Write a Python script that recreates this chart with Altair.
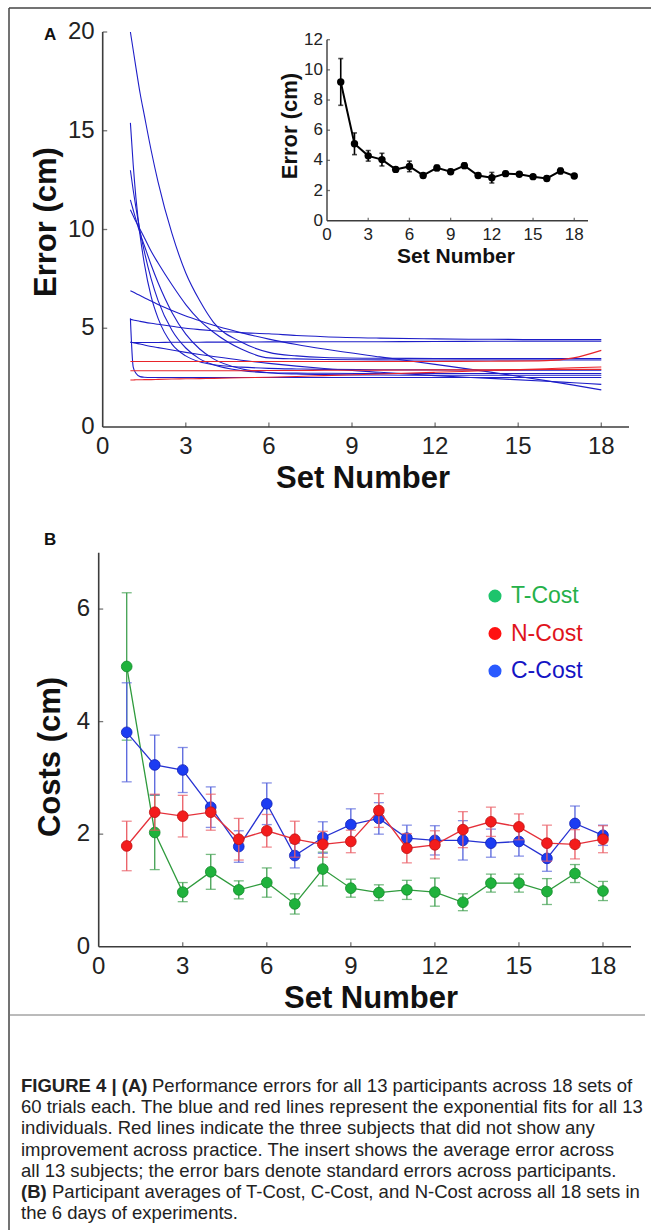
import altair as alt
import pandas as pd

W, H = 658, 1230
FONT = "Liberation Sans, Arial, sans-serif"
CAPFONT = "Liberation Sans Narrow, Arial Narrow, Liberation Sans, sans-serif"
AX_COLOR = "#3c3c3c"
LABEL_COLOR = "#222222"

# ---------------- Panel A : exponential fits per participant ----------------
CURVE_X = [1, 1.1, 1.2, 1.35, 1.5, 1.75, 2, 2.5, 3, 3.5, 4, 5, 6, 7, 8, 10, 12, 14, 16, 17, 18]
BLUE_1 = [20.0, 19.1, 18.2, 16.9, 15.8, 14.0, 12.4, 9.8, 7.8, 6.4, 5.3, 4.3, 3.78, 3.6, 3.52, 3.48, 3.47, 3.46, 3.46, 3.46, 3.46]
BLUE_2 = [15.4, 13.3, 11.6, 9.7, 8.3, 6.6, 5.5, 4.2, 3.6, 3.3, 3.15, 3.03, 2.97, 2.94, 2.92, 2.9, 2.89, 2.88, 2.87, 2.87, 2.87]
BLUE_3 = [13.0, 12.0, 11.1, 9.9, 8.9, 7.5, 6.4, 4.9, 4.0, 3.45, 3.15, 2.86, 2.75, 2.73, 2.72, 2.71, 2.71, 2.71, 2.71, 2.71, 2.71]
BLUE_4 = [11.5, 11.0, 10.5, 9.8, 9.2, 8.2, 7.3, 5.8, 4.7, 3.95, 3.45, 2.95, 2.75, 2.68, 2.65, 2.63, 2.62, 2.62, 2.62, 2.62, 2.62]
BLUE_5 = [11.0, 10.7, 10.4, 10.0, 9.6, 8.9, 8.3, 7.2, 6.2, 5.4, 4.8, 3.95, 3.5, 3.45, 3.42, 3.4, 3.39, 3.39, 3.39, 3.39, 3.39]
BLUE_6 = [6.9, 6.83, 6.76, 6.66, 6.55, 6.38, 6.2, 5.9, 5.62, 5.38, 5.15, 4.78, 4.45, 4.18, 3.95, 3.55, 3.17, 2.78, 2.35, 2.12, 1.88]
BLUE_7 = [5.45, 5.42, 5.39, 5.35, 5.31, 5.25, 5.2, 5.1, 5.0, 4.93, 4.87, 4.78, 4.72, 4.63, 4.57, 4.5, 4.46, 4.44, 4.43, 4.43, 4.43]
BLUE_8 = [5.5, 3.05, 2.72, 2.55, 2.52, 2.51, 2.51, 2.51, 2.51, 2.51, 2.51, 2.51, 2.51, 2.51, 2.51, 2.51, 2.51, 2.51, 2.51, 2.51, 2.51]
BLUE_9 = [4.28, 4.28, 4.28, 4.28, 4.28, 4.28, 4.28, 4.29, 4.29, 4.29, 4.3, 4.3, 4.31, 4.31, 4.32, 4.32, 4.33, 4.34, 4.35, 4.35, 4.35]
BLUE_10 = [4.3, 4.27, 4.24, 4.2, 4.15, 4.08, 4.02, 3.9, 3.78, 3.67, 3.57, 3.38, 3.22, 3.08, 2.96, 2.77, 2.6, 2.46, 2.32, 2.24, 2.16]
RED_1 = [3.32, 3.32, 3.32, 3.32, 3.32, 3.32, 3.32, 3.32, 3.32, 3.32, 3.32, 3.32, 3.32, 3.32, 3.32, 3.32, 3.32, 3.33, 3.36, 3.5, 3.88]
RED_2 = [2.85, 2.85, 2.85, 2.85, 2.85, 2.85, 2.85, 2.85, 2.85, 2.85, 2.85, 2.85, 2.86, 2.86, 2.87, 2.88, 2.89, 2.9, 2.91, 2.92, 2.92]
RED_3 = [2.38, 2.38, 2.39, 2.39, 2.4, 2.4, 2.41, 2.43, 2.44, 2.45, 2.46, 2.49, 2.52, 2.56, 2.6, 2.68, 2.77, 2.86, 2.95, 3.0, 3.04]

A_X_TICKS = [0, 3, 6, 9, 12, 15, 18]
A_Y_TICKS = [0, 5, 10, 15, 20]

# ---------------- Inset : average error ----------------
INSET_SET = list(range(1, 19))
INSET_MEAN = [9.2, 5.1, 4.3, 4.05, 3.4, 3.6, 3.0, 3.5, 3.25, 3.65, 3.0, 2.85, 3.12, 3.08, 2.92, 2.8, 3.3, 2.96]
INSET_SE = [1.55, 0.72, 0.35, 0.42, 0.15, 0.35, 0.15, 0.18, 0.15, 0.18, 0.15, 0.35, 0.15, 0.12, 0.12, 0.15, 0.18, 0.12]
IN_X_TICKS = [0, 3, 6, 9, 12, 15, 18]
IN_Y_TICKS = [0, 2, 4, 6, 8, 10, 12]

# ---------------- Panel B : costs ----------------
B_SET = list(range(1, 19))
SERIES = ["T-Cost", "N-Cost", "C-Cost"]
T_COST = [4.98, 2.03, 0.97, 1.33, 1.01, 1.14, 0.76, 1.38, 1.04, 0.96, 1.01, 0.97, 0.79, 1.13, 1.13, 0.98, 1.30, 0.99]
T_SE = [1.31, 0.66, 0.17, 0.31, 0.16, 0.26, 0.18, 0.30, 0.16, 0.14, 0.17, 0.25, 0.15, 0.16, 0.16, 0.23, 0.16, 0.17]
N_COST = [1.79, 2.39, 2.32, 2.39, 1.91, 2.06, 1.91, 1.82, 1.87, 2.42, 1.75, 1.81, 2.08, 2.22, 2.13, 1.84, 1.82, 1.91]
N_SE = [0.44, 0.32, 0.37, 0.32, 0.37, 0.29, 0.32, 0.23, 0.20, 0.30, 0.26, 0.25, 0.32, 0.26, 0.23, 0.32, 0.26, 0.24]
C_COST = [3.81, 3.23, 3.14, 2.48, 1.78, 2.54, 1.62, 1.94, 2.17, 2.28, 1.93, 1.89, 1.89, 1.84, 1.87, 1.57, 2.19, 1.98]
C_SE = [0.88, 0.53, 0.40, 0.36, 0.28, 0.37, 0.22, 0.28, 0.28, 0.28, 0.23, 0.26, 0.35, 0.25, 0.26, 0.23, 0.31, 0.18]
B_X_TICKS = [0, 3, 6, 9, 12, 15, 18]
B_Y_TICKS = [0, 2, 4, 6]

CAPTION_LINES = [
    "Performance errors for all 13 participants across 18 sets of",
    "60 trials each. The blue and red lines represent the exponential fits for all 13",
    "individuals. Red lines indicate the three subjects that did not show any",
    "improvement across practice. The insert shows the average error across",
    "all 13 subjects; the error bars denote standard errors across participants.",
    "Participant averages of T-Cost, C-Cost, and N-Cost across all 18 sets in",
    "the 6 days of experiments.",
]

# ---------------- scales (pixel ranges on one canvas) ----------------
A_X = alt.Scale(domain=[0, 19], range=[102.7, 629], nice=False, zero=False)
A_Y = alt.Scale(domain=[0, 20], range=[427, 32], nice=False)
IN_X = alt.Scale(domain=[0, 19], range=[327, 588], nice=False, zero=False)
IN_Y = alt.Scale(domain=[0, 12], range=[220.7, 39.7], nice=False)
B_X = alt.Scale(domain=[0, 19], range=[98.7, 631], nice=False, zero=False)
B_Y = alt.Scale(domain=[0, 7], range=[946.7, 552.8], nice=False)

one = pd.DataFrame({"k": [0]})


def axes_layers(xs, ys, xdom, ydom, xticks, yticks, size, xdy, ydx, tick_len, width=1.6):
    """Axis lines, inward ticks and tick labels drawn through the panel's scales."""
    dom_x = pd.DataFrame({"a": [xdom[0]], "b": [xdom[1]], "z": [ydom[0]]})
    dom_y = pd.DataFrame({"a": [ydom[0]], "b": [ydom[1]], "z": [xdom[0]]})
    tx = pd.DataFrame({"v": xticks, "lab": [str(t) for t in xticks], "z": [ydom[0]] * len(xticks)})
    ty = pd.DataFrame({"v": yticks, "lab": [str(t) for t in yticks], "z": [xdom[0]] * len(yticks)})
    return [
        alt.Chart(dom_x).mark_rule(color=AX_COLOR, strokeWidth=width).encode(
            x=alt.X("a:Q", scale=xs, axis=None), x2="b:Q", y=alt.Y("z:Q", scale=ys, axis=None)),
        alt.Chart(dom_y).mark_rule(color=AX_COLOR, strokeWidth=width).encode(
            y=alt.Y("a:Q", scale=ys, axis=None), y2="b:Q", x=alt.X("z:Q", scale=xs, axis=None)),
        alt.Chart(tx[tx.v > xdom[0]]).mark_tick(color=AX_COLOR, orient="vertical", size=tick_len,
                                                 thickness=1.3, yOffset=-tick_len / 2).encode(
            x=alt.X("v:Q", scale=xs, axis=None), y=alt.Y("z:Q", scale=ys, axis=None)),
        alt.Chart(ty[ty.v > ydom[0]]).mark_tick(color=AX_COLOR, orient="horizontal", size=tick_len,
                                                 thickness=1.3, xOffset=tick_len / 2).encode(
            y=alt.Y("v:Q", scale=ys, axis=None), x=alt.X("z:Q", scale=xs, axis=None)),
        alt.Chart(tx).mark_text(fontSize=size, font=FONT, color=LABEL_COLOR, align="center",
                                baseline="alphabetic", dy=xdy).encode(
            x=alt.X("v:Q", scale=xs, axis=None), y=alt.Y("z:Q", scale=ys, axis=None), text="lab:N"),
        alt.Chart(ty).mark_text(fontSize=size, font=FONT, color=LABEL_COLOR, align="right",
                                baseline="middle", dx=ydx).encode(
            y=alt.Y("v:Q", scale=ys, axis=None), x=alt.X("z:Q", scale=xs, axis=None), text="lab:N"),
    ]


def text(s, x, y, size, bold=False, angle=0, align="center", baseline="alphabetic",
         color="#111111", font=FONT):
    return alt.Chart(one).mark_text(
        text=s, fontSize=size, fontWeight="bold" if bold else "normal", angle=angle,
        align=align, baseline=baseline, color=color, font=font
    ).encode(x=alt.value(x), y=alt.value(y))


def curves_df(curves):
    rows = []
    for name, ys in curves.items():
        for xv, yv in zip(CURVE_X, ys):
            rows.append({"subject": name, "set": xv, "error": yv})
    return pd.DataFrame(rows)


blue_df = curves_df({"b1": BLUE_1, "b2": BLUE_2, "b3": BLUE_3, "b4": BLUE_4, "b5": BLUE_5,
                     "b6": BLUE_6, "b7": BLUE_7, "b8": BLUE_8, "b9": BLUE_9, "b10": BLUE_10})
red_df = curves_df({"r1": RED_1, "r2": RED_2, "r3": RED_3})

blue_lines = alt.Chart(blue_df).mark_line(color="#1e1ec8", strokeWidth=1.1, interpolate="monotone").encode(
    x=alt.X("set:Q", scale=A_X, axis=None), y=alt.Y("error:Q", scale=A_Y, axis=None), detail="subject:N")
red_lines = alt.Chart(red_df).mark_line(color="#e8242a", strokeWidth=1.1, interpolate="monotone").encode(
    x=alt.X("set:Q", scale=A_X, axis=None), y=alt.Y("error:Q", scale=A_Y, axis=None), detail="subject:N")
panel_a = alt.layer(blue_lines, red_lines,
                    *axes_layers(A_X, A_Y, [0, 19], [0, 20], A_X_TICKS, A_Y_TICKS, 24, 27, -8, 4.5))

# inset
inset_df = pd.DataFrame({"set": INSET_SET, "mean": INSET_MEAN, "se": INSET_SE})
inset_df["lo"] = inset_df["mean"] - inset_df["se"]
inset_df["hi"] = inset_df["mean"] + inset_df["se"]
in_base = alt.Chart(inset_df)
IX = alt.X("set:Q", scale=IN_X, axis=None)
in_line = in_base.mark_line(color="black", strokeWidth=2).encode(
    x=IX, y=alt.Y("mean:Q", scale=IN_Y, axis=None))
in_err = in_base.mark_rule(color="black", strokeWidth=1.6).encode(
    x=IX, y=alt.Y("lo:Q", scale=IN_Y, axis=None), y2="hi:Q")
in_cap_lo = in_base.mark_tick(color="black", orient="horizontal", size=5, thickness=1.6).encode(
    x=IX, y=alt.Y("lo:Q", scale=IN_Y, axis=None))
in_cap_hi = in_base.mark_tick(color="black", orient="horizontal", size=5, thickness=1.6).encode(
    x=IX, y=alt.Y("hi:Q", scale=IN_Y, axis=None))
in_pts = in_base.mark_circle(color="black", size=55, opacity=1).encode(
    x=IX, y=alt.Y("mean:Q", scale=IN_Y, axis=None))
inset = alt.layer(*axes_layers(IN_X, IN_Y, [0, 19], [0, 12], IN_X_TICKS, IN_Y_TICKS, 17, 19.5, -4, 3, 1.4),
                  in_line, in_err, in_cap_lo, in_cap_hi, in_pts)

# panel B
STYLE = {
    "T-Cost": dict(line="#2f9b3d", err="#3f9f4f", fill="#1fb23c", edge="#128a2a", vals=T_COST, se=T_SE),
    "N-Cost": dict(line="#e5303a", err="#ea5a62", fill="#f31c1c", edge="#c01010", vals=N_COST, se=N_SE),
    "C-Cost": dict(line="#2632d2", err="#5462dc", fill="#1c3cf2", edge="#1020b8", vals=C_COST, se=C_SE),
}
b_layers = axes_layers(B_X, B_Y, [0, 19], [0, 7], B_X_TICKS, B_Y_TICKS, 24, 27.5, -8.7, 4.5)
BX = alt.X("set:Q", scale=B_X, axis=None)
for name in ["T-Cost", "C-Cost", "N-Cost"]:
    st = STYLE[name]
    df = pd.DataFrame({"set": B_SET, "cost": st["vals"], "se": st["se"]})
    df["lo"] = df["cost"] - df["se"]
    df["hi"] = df["cost"] + df["se"]
    base = alt.Chart(df)
    b_layers += [
        base.mark_line(color=st["line"], strokeWidth=1.3).encode(x=BX, y=alt.Y("cost:Q", scale=B_Y, axis=None)),
        base.mark_rule(color=st["err"], strokeWidth=1.3).encode(
            x=BX, y=alt.Y("lo:Q", scale=B_Y, axis=None), y2="hi:Q"),
        base.mark_tick(color=st["err"], orient="horizontal", size=10, thickness=1.3).encode(
            x=BX, y=alt.Y("lo:Q", scale=B_Y, axis=None)),
        base.mark_tick(color=st["err"], orient="horizontal", size=10, thickness=1.3).encode(
            x=BX, y=alt.Y("hi:Q", scale=B_Y, axis=None)),
        base.mark_circle(size=115, opacity=1, fill=st["fill"], stroke=st["edge"], strokeWidth=0.8).encode(
            x=BX, y=alt.Y("cost:Q", scale=B_Y, axis=None)),
    ]
panel_b = alt.layer(*b_layers)

# legend for panel B
leg_df = pd.DataFrame({"series": SERIES})
LEG_Y = alt.Y("series:N", scale=alt.Scale(type="point", domain=SERIES, range=[596, 671], padding=0), axis=None)
leg_pts = alt.Chart(leg_df).mark_circle(size=170, opacity=1).encode(
    y=LEG_Y, x=alt.value(495),
    color=alt.Color("series:N", scale=alt.Scale(domain=SERIES, range=["#1ec46c", "#ff1212", "#2a5aff"]), legend=None))
leg_txt = alt.Chart(leg_df).mark_text(align="left", baseline="middle", fontSize=23, font=FONT).encode(
    y=LEG_Y, x=alt.value(511), text="series:N",
    color=alt.Color("series:N", scale=alt.Scale(domain=SERIES, range=["#25b14a", "#e0141c", "#1414c4"]), legend=None))
legend = alt.layer(leg_pts, leg_txt).resolve_scale(color="independent")

# frame lines
frame = [
    alt.Chart(one).mark_rule(color="#444", strokeWidth=1.5).encode(x=alt.value(9), x2=alt.value(651), y=alt.value(8)),
    alt.Chart(one).mark_rule(color="#444", strokeWidth=1.5).encode(x=alt.value(9), y=alt.value(8), y2=alt.value(H)),
    alt.Chart(one).mark_rule(color="#777", strokeWidth=1.0).encode(x=alt.value(9), x2=alt.value(645), y=alt.value(1015)),
]

texts = [
    text("A", 44, 40, 17, bold=True, align="left"),
    text("Error (cm)", 56, 222, 31, bold=True, angle=270),
    text("Set Number", 363, 488, 31, bold=True),
    text("Error (cm)", 297, 126, 22, bold=True, angle=270),
    text("Set Number", 456, 263, 21, bold=True),
    text("B", 44, 545, 17, bold=True, align="left"),
    text("Costs (cm)", 60, 757, 31, bold=True, angle=270),
    text("Set Number", 371, 1008, 31, bold=True),
]
CAP_Y0, CAP_DY = 1092, 21.2
texts.append(text("FIGURE 4 | (A)", 21, CAP_Y0, 18.5, bold=True, align="left", color="#222", font=CAPFONT))
texts.append(text(CAPTION_LINES[0], 152, CAP_Y0, 18.5, align="left", color="#222", font=CAPFONT))
for i in range(1, 5):
    texts.append(text(CAPTION_LINES[i], 21, CAP_Y0 + CAP_DY * i, 18.5, align="left", color="#222", font=CAPFONT))
texts.append(text("(B)", 21, CAP_Y0 + CAP_DY * 5, 18.5, bold=True, align="left", color="#222", font=CAPFONT))
texts.append(text(CAPTION_LINES[5], 52, CAP_Y0 + CAP_DY * 5, 18.5, align="left", color="#222", font=CAPFONT))
texts.append(text(CAPTION_LINES[6], 21, CAP_Y0 + CAP_DY * 6, 18.5, align="left", color="#222", font=CAPFONT))

chart = alt.layer(panel_a, inset, panel_b, legend, *frame, *texts).resolve_scale(
    x="independent", y="independent", color="independent"
).properties(
    width=W, height=H, autosize=alt.AutoSizeParams(type="none"), padding=0,
    background="white"
).configure_view(stroke=None)

chart.save("out.html", embed_options={"renderer": "svg", "actions": False})
